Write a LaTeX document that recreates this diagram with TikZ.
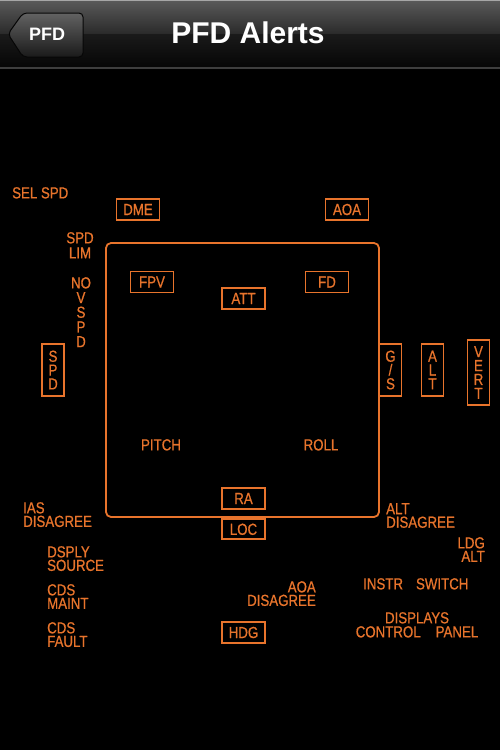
\documentclass[tikz,border=0pt]{standalone}
\usepackage{fontspec}
\setmainfont{Liberation Sans}
\newfontfamily\pfdfont[FakeStretch=0.83,FakeBold=0.7]{Liberation Sans}
\usepackage{tikz}
\usetikzlibrary{positioning}
\definecolor{pfdorange}{HTML}{E8742C}
\definecolor{navtop}{HTML}{5A5A5A}
\definecolor{navmid}{HTML}{2A2A2A}
\definecolor{navlow}{HTML}{1A1A1A}
\definecolor{navbot}{HTML}{060606}
\definecolor{navline}{HTML}{3E3E3E}
\tikzset{
  alertbox/.style={draw=pfdorange,line width=1.8pt,text=pfdorange,inner sep=0pt,
    minimum width=43pt,minimum height=21pt,align=center,
    font=\pfdfont\fontsize{16}{14}\selectfont},
  tallbox/.style={alertbox,minimum width=22pt,minimum height=52pt,
    font=\pfdfont\fontsize{16}{13.8}\selectfont},
  alertlabel/.style={text=pfdorange,inner sep=0pt,
    font=\pfdfont\fontsize{16}{13.5}\selectfont}
}

\begin{document}
\begin{tikzpicture}[x=1pt,y=-1pt]
  \useasboundingbox (0,0) rectangle (500,750);
  \fill[black] (0,0) rectangle (500,750);
  % navigation bar
  \shade[top color=navtop,bottom color=navmid] (0,0) rectangle (500,34);
  \shade[top color=navlow,bottom color=navbot] (0,34) rectangle (500,67);
  \fill[gray!70] (0,0) rectangle (500,1.2);
  \fill[navline] (0,66.5) rectangle (500,68.5);
  \shade[top color=navtop!95,bottom color=navlow,draw=navbot,line width=1pt,rounded corners=4pt]
    (8,34) -- (23,13) -- (83,13) -- (83,57) -- (23,57) -- cycle;
  \node[text=white,inner sep=0pt,font=\bfseries\fontsize{18}{18}\selectfont] (back) at (47,34) {PFD};
  \node[text=white,inner sep=0pt,font=\bfseries\fontsize{30}{30}\selectfont] (title) at (248,32.5) {PFD Alerts};

  % display frame
  \node[draw=pfdorange,line width=1.8pt,rounded corners=5pt,
        minimum width=273pt,minimum height=274pt] (frame) at (242.5,380) {};

  % boxed alerts
  \node[alertbox] (dme) at (138,209.5) {DME};
  \node[alertbox] (aoa) at (347,209.5) {AOA};
  \node[alertbox] (fpv) at (152,282) {FPV};
  \node[alertbox] (fd)  at (327,282) {FD};
  \node[alertbox] (att) at (243.5,298.5) {ATT};
  \node[alertbox] (ra)  at (243.5,498.5) {RA};
  \node[alertbox,minimum height=20pt,below=8.5pt of ra] (loc) {LOC};
  \node[alertbox] (hdg) at (243.5,632.5) {HDG};
  \node[tallbox] (spd) at (53,370) {S\\P\\D};
  \node[tallbox] (gs)  at (390.5,370) {G\\/\\S};
  \node[tallbox] (alt) at (432.5,370) {A\\L\\T};
  \node[tallbox,minimum height=65pt,font=\pfdfont\fontsize{16}{13.9}\selectfont]
        (vert) at (478.5,372.5) {V\\E\\R\\T};

  % plain alerts
  \node[alertlabel,anchor=north west] (selspd) at (12,187) {SEL SPD};
  \node[alertlabel,anchor=north,align=center,font=\pfdfont\fontsize{16}{15}\selectfont]
        (spdlim) at (80,232) {SPD\\LIM};
  \node[alertlabel,anchor=north,align=center,font=\pfdfont\fontsize{16}{14.7}\selectfont]
        (novspd) at (81,277) {NO\\V\\S\\P\\D};
  \node[alertlabel,anchor=north] (pitch) at (161,439) {PITCH};
  \node[alertlabel,anchor=north] (roll)  at (321,439) {ROLL};
  \node[alertlabel,anchor=north west,align=left] (iasdis) at (23,502) {IAS\\DISAGREE};
  \node[alertlabel,anchor=north west,align=left] (dsply)  at (47,546) {DSPLY\\SOURCE};
  \node[alertlabel,anchor=north west,align=left] (cdsm)   at (47,584) {CDS\\MAINT};
  \node[alertlabel,anchor=north west,align=left] (cdsf)   at (47,622) {CDS\\FAULT};
  \node[alertlabel,anchor=north east,align=right] (aoadis) at (316,581) {AOA\\DISAGREE};
  \node[alertlabel,anchor=north west,align=left] (altdis) at (386,503) {ALT\\DISAGREE};
  \node[alertlabel,anchor=north east,align=right] (ldgalt) at (485,537) {LDG\\ALT};
  \node[alertlabel,anchor=north west] (instr) at (363,578) {INSTR\hspace{13pt}SWITCH};
  \node[alertlabel,anchor=north,align=center,font=\pfdfont\fontsize{16}{14}\selectfont]
        (dcp) at (417,612) {DISPLAYS\\CONTROL\hspace{15pt}PANEL};
\end{tikzpicture}
\end{document}
